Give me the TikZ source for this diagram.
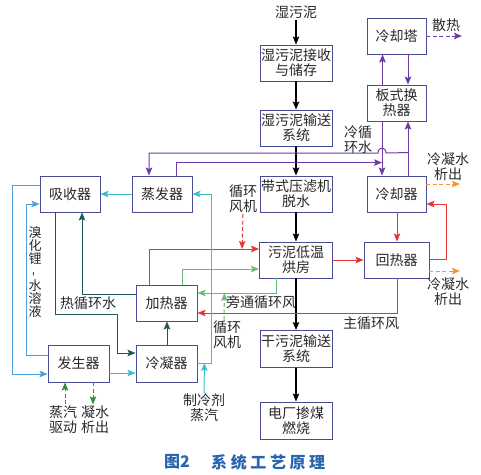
\documentclass[tikz,border=0pt]{standalone}
\usepackage{fontspec}
\setmainfont{Noto Sans CJK SC}
\usepackage{graphicx}
\usetikzlibrary{arrows.meta,calc}
\definecolor{boxc}{RGB}{72,76,150}
\definecolor{purp}{RGB}{112,58,165}
\definecolor{redc}{RGB}{232,52,52}
\definecolor{grnc}{RGB}{108,188,120}
\definecolor{tealc}{RGB}{62,190,200}
\definecolor{bluc}{RGB}{78,160,218}
\definecolor{dkt}{RGB}{30,88,88}
\definecolor{stmc}{RGB}{52,140,62}
\definecolor{orgc}{RGB}{242,150,48}
\definecolor{capc}{RGB}{40,100,175}
\definecolor{txtc}{RGB}{40,40,40}
\begin{document}
\begin{tikzpicture}[x=1pt,y=-1pt,
  >={Stealth[length=8pt,width=6.5pt,inset=1.5pt]},
  every node/.style={font=\fontsize{14}{15}\selectfont, inner sep=1pt, align=center, text=txtc},
  box/.style={draw=boxc, line width=0.9pt, fill=white, minimum height=36pt, inner sep=0pt},
  blk/.style={->, line width=1.3pt, black},
  pur/.style={line width=1pt, draw=purp},
  rd/.style={line width=1pt, draw=redc},
  gr/.style={line width=1pt, draw=grnc},
  tl/.style={line width=1pt, draw=tealc},
  bl/.style={line width=1pt, draw=bluc},
  dk/.style={line width=1pt, draw=dkt},
  stm/.style={line width=1pt, draw=stmc, dash pattern=on 4pt off 2.5pt},
  org/.style={line width=1pt, draw=orgc, dash pattern=on 4pt off 2.5pt},
  dsh/.style={dash pattern=on 4pt off 2.5pt}
]
\useasboundingbox (0,0) rectangle (481,474);

% main sludge line
\node (src) at (296,12) {湿污泥};
\node[box, minimum width=72pt] (b1) at (296,63) {湿污泥接收\\与储存};
\node[box, minimum width=72pt] (b2) at (296,128) {湿污泥输送\\系统};
\node[box, minimum width=72pt] (b3) at (296,194) {带式压滤机\\脱水};
\node[box, minimum width=73pt] (b4) at (296,260) {污泥低温\\烘房};
\node[box, minimum width=72pt, minimum height=37pt] (b5) at (296,349) {干污泥输送\\系统};
\node[box, minimum width=72pt, minimum height=37pt] (b6) at (296,420.5) {电厂掺煤\\燃烧};

% right column
\node[box, minimum width=59pt] (ct) at (396.5,36) {冷却塔};
\node[box, minimum width=59pt] (phe) at (396.5,103) {板式换\\热器};
\node[box, minimum width=59pt] (cool) at (396.5,194) {冷却器};
\node[box, minimum width=65pt] (reh) at (396.5,260) {回热器};

% left part
\node[box, minimum width=60pt] (abs) at (70,194) {吸收器};
\node[box, minimum width=60pt] (eva) at (162,194) {蒸发器};
\node[box, minimum width=61pt] (hea) at (166.5,303) {加热器};
\node[box, minimum width=61pt, minimum height=37pt] (gen) at (78.5,363.5) {发生器};
\node[box, minimum width=61pt, minimum height=37pt] (con) at (166.5,363.5) {冷凝器};

% labels
\node (heat) at (446,25) {散热};
\node (cwl) at (358,139.5) {冷循\\环水};
\node (fan1) at (243,199) {循环\\风机};
\node (fan2) at (227,335) {循环\\风机};
\node (byp) at (261,302) {旁通循环风};
\node (main) at (371,323) {主循环风};
\node (hw) at (88,303) {热循环水};
\node (cw1) at (448,166.5) {冷凝水\\析出};
\node (cw2) at (448,291.5) {冷凝水\\析出};
\node (refr) at (204,408) {制冷剂\\蒸汽};
\node (sq) at (63,419.5) {蒸汽\\驱动};
\node (ns) at (95,419.5) {凝水\\析出};
\node[font=\fontsize{13}{13.2}\selectfont] (libr) at (35,272) {溴\\化\\锂\\\rotatebox{90}{-}\\水\\溶\\液};
\node[font=\fontsize{16}{18}\selectfont\bfseries, text=capc, anchor=west] (cap1) at (163,462) {图2};
\node[font=\fontsize{16}{18}\selectfont\bfseries, text=capc, anchor=west] (cap2) at (210,462) {\makebox[114pt][s]{系\hfil 统\hfil 工\hfil 艺\hfil 原\hfil 理}};

% black arrows
\draw[blk] (src) -- (b1);
\draw[blk] (b1) -- (b2);
\draw[blk] (b2) -- (b3);
\draw[blk] (b3) -- (b4);
\draw[blk] (b4) -- (b5);
\draw[blk] (b5) -- (b6);

% purple cooling water
\draw[pur,->] ($(phe.south)+(-14.5,0)$) -- ($(cool.north)+(-14.5,0)$);
\draw[pur,->] ($(cool.north)+(11.5,0)$) -- ($(phe.south)+(11.5,0)$);
\draw[pur,->] ($(phe.north)+(-14,0)$) -- ($(ct.south)+(-14,0)$);
\draw[pur,->] ($(ct.south)+(11.5,0)$) -- ($(phe.north)+(11.5,0)$);
\coordinate (heatend) at (462,36);
\draw[pur,dsh,->] (ct.east) -- (heatend);
\draw[pur,->] ($(cool.north)+(11.5,-23)$) -- (386,153) .. controls (386,146.5) and (378,146.5) .. (378,153) -- (149,153) -- ($(eva.north)+(-13,0)$);
\draw[pur,->] ($(eva.north)+(14,0)$) |- ($(cool.north)+(-14.5,-13)$);

% red main circulating air
\draw[rd,->] ($(cool.south)+(0.5,0)$) -- ($(reh.north)+(0.5,0)$);
\draw[rd,->] ($(reh.east)+(0,-1)$) -- (446,259) |- ($(cool.east)+(0,10)$);
\draw[rd,->] (b4.east) -- (reh.west);
\draw[rd,->] ($(reh.south)+(0.5,0)$) |- ($(hea.east)+(0,10)$);
\draw[rd,->] ($(hea.north)+(-17.5,0)$) |- ($(b4.west)+(0,-11)$);
\draw[rd,dsh,->] (fan1.south) -- ($(b4.west)+(-17,-11)$);

% green bypass air
\draw[gr,->] ($(hea.north)+(15.5,0)$) |- ($(b4.west)+(0,9)$);
\draw[gr,->] ($(b4.south)+(-19.5,0)$) |- ($(hea.east)+(0,-10)$);
\draw[gr,dsh,->] ($(fan2.north)+(-3,0)$) -- ($(hea.east)+(27,-10)$);

% teal refrigerant
\draw[tl,->] (eva.west) -- (abs.east);
\draw[tl,->] ($(con.east)+(0,-0.5)$) -- (211,363) |- (eva.east);
\draw[tl,->] (refr.north) -- ($(con.east)+(7,-0.5)$);
\draw[tl,->] ($(gen.east)+(0,9.5)$) -- ($(con.west)+(0,9.5)$);

% blue LiBr solution
\draw[bl,->] ($(abs.west)+(0,-9)$) -- (12,185) |- ($(gen.west)+(0,10.5)$);
\draw[bl,->] ($(gen.west)+(0,-8.5)$) -- (26,355) |- ($(abs.west)+(0,10)$);

% dark hot water
\draw[dk,->] ($(abs.south)+(-15,0)$) |- (117,314) |- ($(con.west)+(0,-10.5)$);
\draw[dk,->] ($(con.north)+(0.5,0)$) -- ($(hea.south)+(0.5,0)$);
\draw[dk,->] ($(hea.west)+(0,-9)$) -| ($(abs.south)+(12,0)$);

% steam
\draw[stm,->] ($(sq.north)+(2,0)$) -- ($(gen.south)+(-13.5,0)$);
\draw[stm,->] ($(gen.south)+(14.5,0)$) -- ($(ns.north)+(-2,0)$);

% orange condensate
\coordinate (o1) at (460,184);
\coordinate (o2) at (460,271);
\draw[org,->] ($(cool.east)+(0,-10)$) -- (o1);
\draw[org,->] ($(reh.east)+(0,11)$) -- (o2);
\end{tikzpicture}
\end{document}
